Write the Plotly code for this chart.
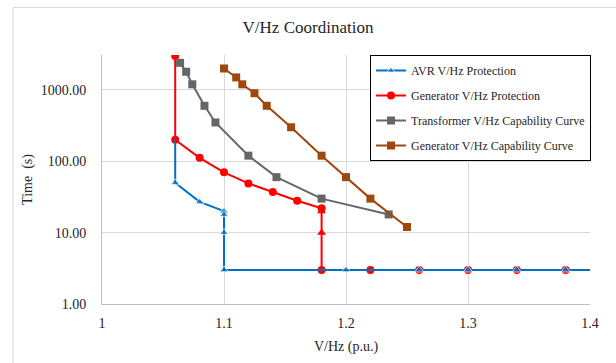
import plotly.graph_objects as go

# AVR V/Hz Protection
avr_x = [1.06, 1.06, 1.08, 1.10, 1.10, 1.10, 1.10, 1.20, 1.26, 1.30, 1.34, 1.38, 1.40]
avr_y = [200, 50, 27, 20, 18, 10, 3, 3, 3, 3, 3, 3, 3]

# Generator V/Hz Protection
gen_x = [1.06, 1.06, 1.08, 1.10, 1.12, 1.14, 1.16, 1.18, 1.18, 1.18, 1.18, 1.22, 1.26, 1.30, 1.34, 1.38]
gen_y = [3000, 200, 112, 70, 49, 37, 28, 22, 20, 10, 3, 3, 3, 3, 3, 3]

# Transformer V/Hz Capability Curve
trf_x = [1.064, 1.069, 1.074, 1.084, 1.093, 1.12, 1.143, 1.18, 1.235]
trf_y = [2400, 1800, 1200, 600, 350, 120, 60, 30, 18]

# Generator V/Hz Capability Curve
cap_x = [1.10, 1.11, 1.115, 1.125, 1.135, 1.155, 1.18, 1.20, 1.22, 1.25]
cap_y = [2000, 1500, 1200, 900, 600, 300, 120, 60, 30, 12]

x_ticks = [1.0, 1.1, 1.2, 1.3, 1.4]
x_ticktext = ["1", "1.1", "1.2", "1.3", "1.4"]
y_ticks = [1, 10, 100, 1000]
y_ticktext = ["1.00", "10.00", "100.00", "1000.00"]

FONT = "Liberation Serif, Times New Roman, serif"
BLUE = "#0070C0"
RED = "#FF0000"
GRAY = "#666666"
BROWN = "#9E480E"
TXT = "#262626"

fig = go.Figure()

gen_symbols = ["circle"] * len(gen_x)
gen_symbols[8] = "triangle-up"
gen_symbols[9] = "triangle-up"

avr_sizes = [8] * len(avr_x)
avr_sizes[0] = 0
avr_sizes[-1] = 0

fig.add_trace(go.Scatter(
    x=gen_x, y=gen_y, mode="lines+markers", name="Generator V/Hz Protection",
    line=dict(color=RED, width=2),
    marker=dict(color=RED, size=8, symbol=gen_symbols),
    legendrank=2, legendgroup="g2"))

fig.add_trace(go.Scatter(
    x=avr_x, y=avr_y, mode="lines+markers", name="AVR V/Hz Protection",
    line=dict(color=BLUE, width=2),
    marker=dict(color=BLUE, size=avr_sizes, symbol="triangle-up"),
    legendrank=1, legendgroup="g1"))

fig.add_trace(go.Scatter(
    x=trf_x, y=trf_y, mode="lines+markers", name="Transformer V/Hz Capability Curve",
    line=dict(color=GRAY, width=2),
    marker=dict(color=GRAY, size=8, symbol="square"),
    legendrank=3, legendgroup="g3"))

fig.add_trace(go.Scatter(
    x=cap_x, y=cap_y, mode="lines+markers", name="Generator V/Hz Capability Curve",
    line=dict(color=BROWN, width=2),
    marker=dict(color=BROWN, size=8, symbol="square"),
    legendrank=4, legendgroup="g4"))

W, H = 616, 363
L, R, T, B = 102, 26, 55, 59
pw = W - L - R
ph = H - T - B

def px_x(p):
    return (p - L) / pw

def px_y(p):
    return (H - B - p) / ph

fig.update_layout(
    width=W, height=H,
    margin=dict(l=L, r=R, t=T, b=B, autoexpand=False),
    paper_bgcolor="white", plot_bgcolor="white",
    font=dict(family=FONT, size=12, color=TXT),
    title=dict(text="V/Hz Coordination", x=0.5, xanchor="center",
               y=1 - 27 / H, yanchor="middle",
               font=dict(family=FONT, size=17, color=TXT)),
    showlegend=True,
    legend=dict(
        x=px_x(370), y=px_y(55), xanchor="left", yanchor="top",
        bordercolor="black", borderwidth=1, bgcolor="white",
        font=dict(family=FONT, size=12, color=TXT),
        tracegroupgap=6, itemwidth=30,
        traceorder="grouped",
    ),
    xaxis=dict(
        range=[1.0, 1.4], tickvals=x_ticks, ticktext=x_ticktext,
        showgrid=True, gridcolor="#D9D9D9", gridwidth=1,
        showline=True, linecolor="#BFBFBF", linewidth=1,
        zeroline=False, ticks="", ticklabelstandoff=6, automargin=False,
        tickfont=dict(family=FONT, size=14, color=TXT),
        title=dict(text="V/Hz (p.u.)", standoff=11,
                   font=dict(family=FONT, size=14, color=TXT)),
    ),
    yaxis=dict(
        type="log", range=[0, 3.49], tickvals=y_ticks, ticktext=y_ticktext,
        showgrid=True, gridcolor="#D9D9D9", gridwidth=1,
        showline=True, linecolor="#BFBFBF", linewidth=1,
        zeroline=False, ticks="", ticklabelstandoff=12, automargin=False,
        tickfont=dict(family=FONT, size=14, color=TXT),
        title=dict(text="Time  (s)", standoff=4,
                   font=dict(family=FONT, size=14, color=TXT)),
    ),
    shapes=[dict(
        type="rect", xref="paper", yref="paper",
        x0=px_x(13), x1=px_x(640), y0=px_y(400), y1=px_y(7.5),
        line=dict(color="#D9D9D9", width=1), layer="below",
    )],
)

fig.write_html("out.html")
